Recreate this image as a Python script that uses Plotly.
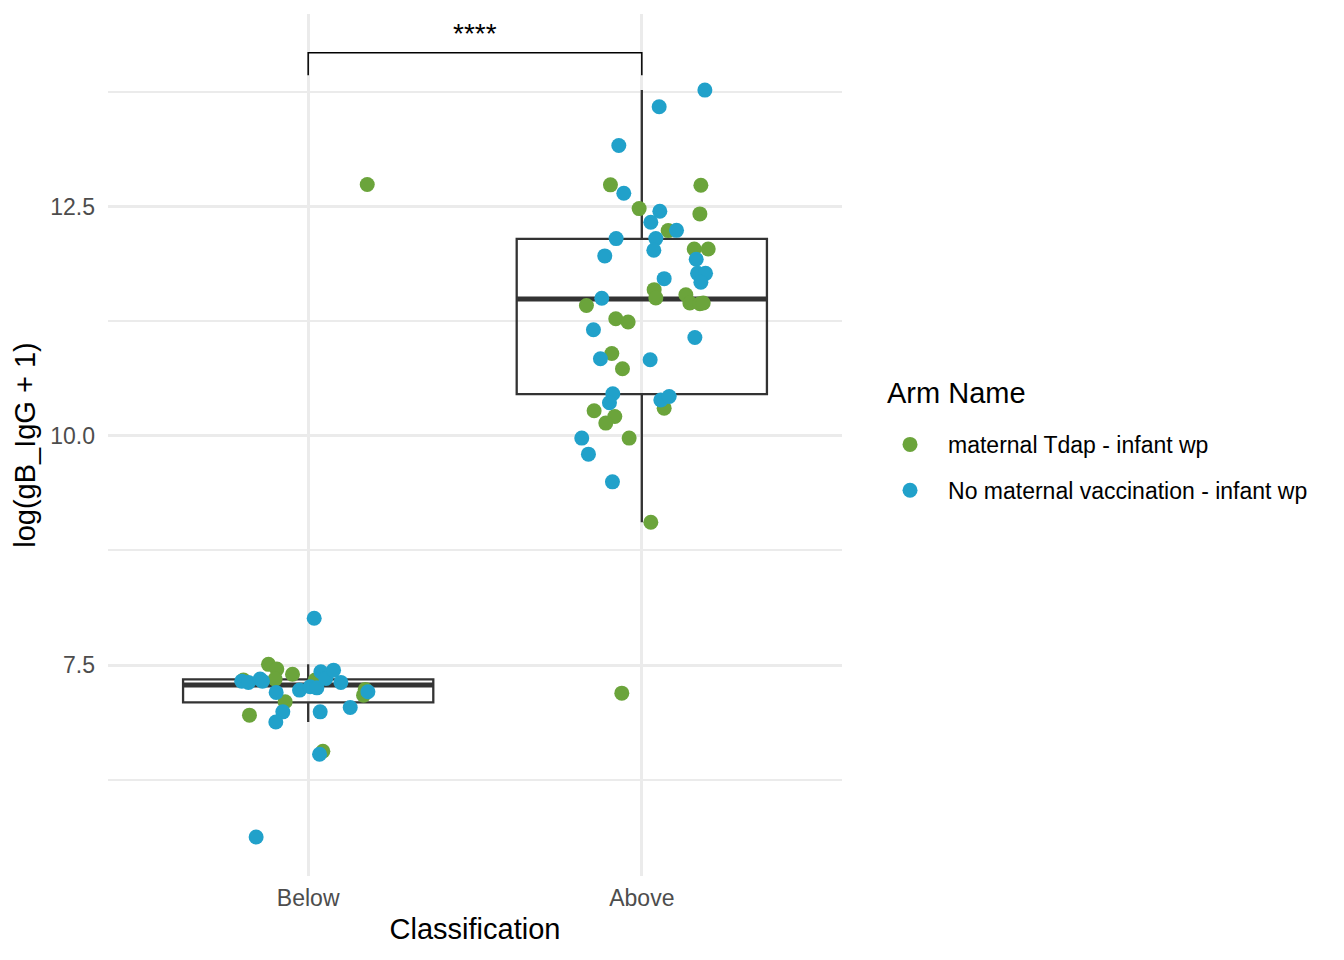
import plotly.graph_objects as go

# categories on the x axis (positions 1 and 2)
categories = ['Below', 'Above']
arm_names = ['maternal Tdap - infant wp', 'No maternal vaccination - infant wp']
arm_colors = ['#6BA43B', '#21A1CA']

# jitter offsets (in category units) and values
below_tdap_dx = [-0.119, -0.094, -0.047, -0.194, -0.099, -0.069, -0.176, 0.021, 0.166, 0.171, 0.044, 0.177]
below_tdap_y = [7.508, 7.456, 7.40, 7.336, 7.347, 7.10, 6.954, 7.336, 7.172, 7.235, 6.561, 12.74]

below_none_dx = [0.018, -0.199, -0.179, -0.144, -0.137, -0.096, -0.076, -0.097, -0.026, 0.006,
                 0.026, 0.038, 0.053, 0.076, 0.098, 0.036, 0.126, 0.179, 0.034, -0.156]
below_none_y = [8.01, 7.325, 7.311, 7.347, 7.325, 7.202, 6.99, 6.88, 7.227, 7.263,
                7.252, 7.427, 7.355, 7.445, 7.311, 6.99, 7.038, 7.209, 6.528, 5.626]

above_tdap_dx = [-0.094, 0.177, -0.008, 0.174, 0.079, 0.157, 0.199, 0.037, 0.042, 0.132,
                 0.144, 0.174, 0.184, -0.166, -0.078, -0.041, -0.090, -0.058, 0.067, -0.143,
                 -0.081, -0.108, -0.038, 0.027, -0.060]
above_tdap_y = [12.737, 12.733, 12.478, 12.42, 12.238, 12.038, 12.038, 11.594, 11.504, 11.539,
                11.449, 11.441, 11.449, 11.422, 11.277, 11.241, 10.898, 10.731, 10.302, 10.273,
                10.211, 10.139, 9.975, 9.057, 7.194]

above_none_dx = [0.189, 0.052, -0.069, -0.054, 0.054, 0.027, 0.104, 0.042, -0.077, 0.036,
                 -0.111, 0.163, 0.167, 0.191, 0.177, 0.067, -0.120, -0.145, 0.159, -0.124,
                 0.025, -0.087, -0.097, 0.057, 0.082, -0.180, -0.160, -0.088]
above_none_y = [13.77, 13.588, 13.166, 12.645, 12.449, 12.329, 12.241, 12.151, 12.151, 12.023,
                11.962, 11.925, 11.772, 11.772, 11.674, 11.714, 11.50, 11.157, 11.073, 10.84,
                10.83, 10.459, 10.36, 10.39, 10.429, 9.975, 9.80, 9.498]

# box statistics per category
box_q1 = [7.093, 10.455]
box_median = [7.282, 11.492]
box_q3 = [7.344, 12.147]
box_lower = [6.88, 9.057]
box_upper = [7.508, 13.77]
box_width = 0.75

# significance bracket
bracket_y = 14.178
bracket_tip = 0.245
bracket_label = '****'

FONT = 'Liberation Sans, Arial, Helvetica, sans-serif'
cat_pos = [1, 2]

fig = go.Figure()

# boxes (no fill, like ggplot fill=NA)
fig.add_trace(go.Box(
    x=cat_pos, q1=box_q1, median=box_median, q3=box_q3,
    lowerfence=box_lower, upperfence=box_upper,
    width=box_width, whiskerwidth=0,
    fillcolor='rgba(0,0,0,0)',
    line=dict(color='#333333', width=2.3),
    boxpoints=False, showlegend=False, hoverinfo='skip'
))

# thicker median lines
for c, m in zip(cat_pos, box_median):
    fig.add_trace(go.Scatter(
        x=[c - box_width / 2, c + box_width / 2], y=[m, m],
        mode='lines', line=dict(color='#333333', width=5),
        showlegend=False, hoverinfo='skip'
    ))

# jittered points
groups = [
    (0, [(below_tdap_dx, below_tdap_y, 1), (above_tdap_dx, above_tdap_y, 2)]),
    (1, [(below_none_dx, below_none_y, 1), (above_none_dx, above_none_y, 2)]),
]
for arm, parts in groups:
    xs, ys = [], []
    for dx, yv, c in parts:
        xs += [c + d for d in dx]
        ys += yv
    fig.add_trace(go.Scatter(
        x=xs, y=ys, mode='markers', name=arm_names[arm],
        legendgroup=arm_names[arm],
        marker=dict(color=arm_colors[arm], size=15, line=dict(width=0))
    ))

# bracket
fig.add_trace(go.Scatter(
    x=[cat_pos[0], cat_pos[0], cat_pos[1], cat_pos[1]],
    y=[bracket_y - bracket_tip, bracket_y, bracket_y, bracket_y - bracket_tip],
    mode='lines', line=dict(color='black', width=1.5),
    showlegend=False, hoverinfo='skip'
))
fig.add_annotation(
    x=sum(cat_pos) / 2, y=bracket_y, text=bracket_label, showarrow=False,
    yanchor='bottom', yshift=2, font=dict(family=FONT, size=28, color='black')
)

# legend title as a separate text so the spacing matches
fig.add_annotation(
    x=1.0586, y=0.560, xref='paper', yref='paper', xanchor='left', yanchor='middle',
    text='Arm Name', showarrow=False, font=dict(family=FONT, size=29, color='black')
)

fig.update_layout(
    width=1344, height=960,
    margin=dict(l=100, r=510, t=6, b=92),
    plot_bgcolor='white', paper_bgcolor='white',
    font=dict(family=FONT, color='black'),
    xaxis=dict(
        range=[0.4, 2.6], tickvals=cat_pos, ticktext=categories,
        showgrid=True, gridcolor='#EBEBEB', gridwidth=2.5, zeroline=False,
        tickfont=dict(size=23, color='#4D4D4D'), ticklabelstandoff=6,
        title=dict(text='Classification', font=dict(size=29), standoff=8),
    ),
    yaxis=dict(
        range=[5.2, 14.6], tick0=0, dtick=2.5, tickformat='.1f',
        showgrid=True, gridcolor='#EBEBEB', gridwidth=2.5, zeroline=False,
        minor=dict(showgrid=True, dtick=1.25, tick0=0, gridcolor='#EBEBEB', gridwidth=1.5),
        tickfont=dict(size=23, color='#4D4D4D'), ticklabelstandoff=12,
        title=dict(text='log(gB_IgG + 1)', font=dict(size=29), standoff=6),
    ),
    legend=dict(
        font=dict(size=23), x=1.0409, xanchor='left', y=0.5256, yanchor='top',
        tracegroupgap=13, itemsizing='trace', itemwidth=66
    ),
)

fig.write_html('out.html')
